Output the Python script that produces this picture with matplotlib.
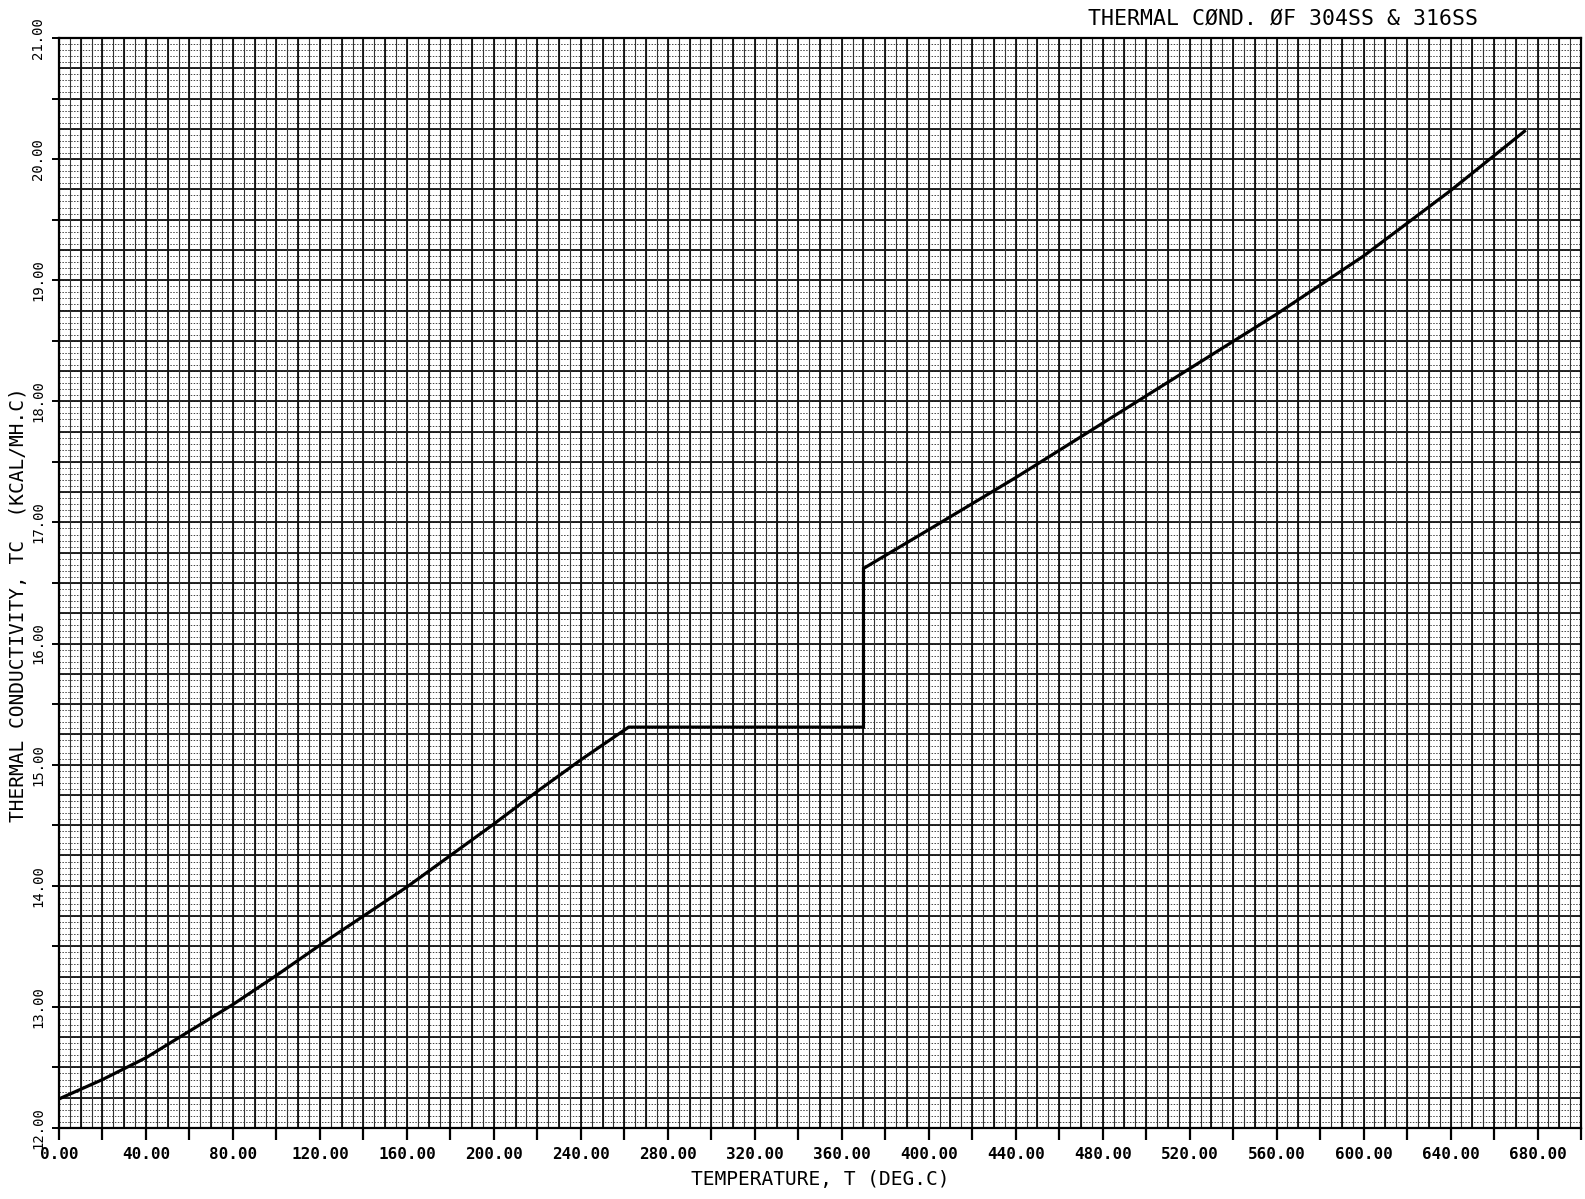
import numpy as np
import matplotlib
matplotlib.use("Agg")
import matplotlib.pyplot as plt
from matplotlib.ticker import MultipleLocator, FormatStrFormatter

# ---- data ----
temperature = [0, 20, 40, 60, 80, 100, 120, 140, 160, 180, 200, 220, 240, 262,
               370, 370, 400, 440, 480, 520, 560, 600, 640, 674]
conductivity = [12.24, 12.40, 12.58, 12.80, 13.02, 13.26, 13.51, 13.75, 13.99, 14.25,
                14.51, 14.78, 15.04, 15.31,
                15.31, 16.62, 16.94, 17.37, 17.82, 18.27, 18.72, 19.20, 19.74, 20.23]

title_text = "THERMAL CØND. ØF 304SS & 316SS"
xlabel_text = "TEMPERATURE, T (DEG.C)"
ylabel_text = "THERMAL CONDUCTIVITY, TC  (KCAL/MH.C)"

xmin, xmax = 0, 700
ymin, ymax = 12, 21

W, H = 1585, 1199
fig = plt.figure(figsize=(W / 100, H / 100), dpi=100)
fig.patch.set_facecolor("white")
L, R, T, B = 59, 1581, 38, 1128
ax = fig.add_axes([L / W, (H - B) / H, (R - L) / W, (B - T) / H])
ax.set_xlim(xmin, xmax)
ax.set_ylim(ymin, ymax)

# ---- graph-paper background ----
ax.hlines(np.arange(ymin, ymax + 1e-9, 0.05), xmin, xmax, colors="#444444",
          linewidths=0.7, linestyles=(0, (1.5, 1.5)), zorder=1)
ax.hlines(np.arange(ymin, ymax + 1e-9, 0.25), xmin, xmax, colors="#111111",
          linewidths=1.3, zorder=2)
vx5 = np.arange(xmin, xmax + 1e-9, 5)
ax.vlines(vx5, ymin, ymax, colors="#333333", linewidths=0.8, zorder=2)
vx10 = np.arange(xmin, xmax + 1e-9, 10)
ax.vlines(vx10, ymin, ymax, colors="#111111", linewidths=1.3, zorder=2)

# ---- curve ----
ax.plot(temperature, conductivity, color="black", lw=2.3, zorder=5,
        solid_joinstyle="miter")

# ---- axes styling ----
for s in ax.spines.values():
    s.set_linewidth(1.6)
    s.set_color("black")
    s.set_zorder(6)

ax.xaxis.set_major_locator(MultipleLocator(40))
ax.xaxis.set_minor_locator(MultipleLocator(20))
ax.yaxis.set_major_locator(MultipleLocator(1))
ax.yaxis.set_minor_locator(MultipleLocator(0.5))
ax.xaxis.set_major_formatter(FormatStrFormatter("%.2f"))
ax.yaxis.set_major_formatter(FormatStrFormatter("%.2f"))

ax.tick_params(axis="x", which="both", direction="out", length=8.5, width=1.6,
               pad=5, labelsize=11.5)
ax.tick_params(axis="y", which="both", direction="out", length=5, width=1.4,
               pad=5, labelsize=10)
for lab in ax.get_xticklabels():
    lab.set_fontfamily("DejaVu Sans Mono")
    lab.set_fontweight("bold")
for lab in ax.get_yticklabels():
    lab.set_fontfamily("DejaVu Sans Mono")
    lab.set_rotation(90)
    lab.set_va("center")
    lab.set_ha("right")

ax.set_xlabel(xlabel_text, fontfamily="DejaVu Sans Mono", fontsize=14)
ax.xaxis.set_label_coords(0.5, (B - 1180) / (B - T))
ax.xaxis.label.set_va("center")

ax.set_ylabel(ylabel_text, fontfamily="DejaVu Sans Mono", fontsize=14)
ax.yaxis.set_label_coords((19 - L) / (R - L), 0.48)
ax.yaxis.label.set_va("center")

fig.text(1478 / W, 1 - 19 / H, title_text, ha="right", va="center",
         fontfamily="DejaVu Sans Mono", fontsize=15.5)

fig.savefig("out.png", dpi=100, facecolor="white")
